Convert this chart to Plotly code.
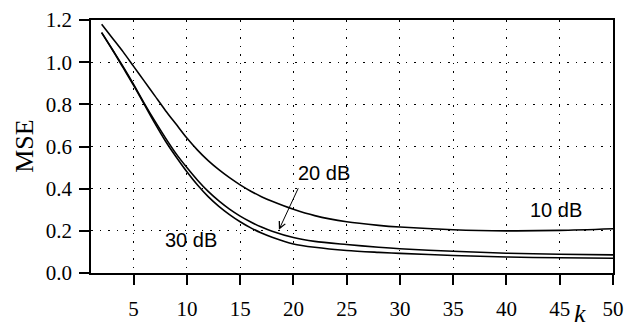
import plotly.graph_objects as go

k_values = [2, 3, 4, 5, 6, 7, 8, 9, 10, 11, 12, 13, 14, 15, 16, 17, 18, 20, 22, 25, 28, 30, 35, 40, 45, 50]

mse_10db = [1.18, 1.115, 1.05, 0.98, 0.91, 0.84, 0.77, 0.705, 0.64, 0.583, 0.533, 0.49, 0.452, 0.418,
            0.388, 0.362, 0.34, 0.302, 0.272, 0.243, 0.226, 0.218, 0.205, 0.200, 0.202, 0.21]
mse_20db = [1.14, 1.06, 0.98, 0.895, 0.805, 0.72, 0.64, 0.565, 0.50, 0.44, 0.387, 0.342, 0.303, 0.27,
            0.242, 0.218, 0.198, 0.168, 0.15, 0.135, 0.122, 0.115, 0.103, 0.094, 0.089, 0.086]
mse_30db = [1.14, 1.06, 0.975, 0.89, 0.80, 0.71, 0.625, 0.55, 0.48, 0.417, 0.362, 0.316, 0.277, 0.243,
            0.214, 0.19, 0.17, 0.138, 0.122, 0.107, 0.098, 0.093, 0.083, 0.076, 0.072, 0.07]

x_ticks = [5, 10, 15, 20, 25, 30, 35, 40, 45, 50]
y_ticks = [0.0, 0.2, 0.4, 0.6, 0.8, 1.0, 1.2]

serif = "Liberation Serif"
sans = "Liberation Sans"

fig = go.Figure()
for name, ys in [("10 dB", mse_10db), ("20 dB", mse_20db), ("30 dB", mse_30db)]:
    fig.add_trace(go.Scatter(x=k_values, y=ys, mode="lines", name=name,
                             line=dict(color="black", width=1.6, shape="spline", smoothing=0.8),
                             showlegend=False))

fig.update_layout(
    width=636, height=331,
    margin=dict(l=83, r=31, t=12, b=66),
    paper_bgcolor="white", plot_bgcolor="white",
    font=dict(family=serif, size=21, color="black"),
)
fig.update_xaxes(
    range=[1, 50], tickvals=x_ticks, ticktext=[str(v) for v in x_ticks],
    ticks="outside", ticklen=10, tickwidth=1.5, tickcolor="black",
    showline=True, linecolor="black", linewidth=1.5, mirror=True,
    showgrid=True, gridcolor="black", gridwidth=1, griddash="1.5px,7px",
    zeroline=False, ticklabelstandoff=6, automargin=False, ticklabeloverflow="allow",
    tickfont=dict(family=serif, size=21),
)
fig.update_yaxes(
    range=[0, 1.2], tickvals=y_ticks, ticktext=[f"{v:.1f}" for v in y_ticks],
    ticks="outside", ticklen=10, tickwidth=1.5, tickcolor="black",
    showline=True, linecolor="black", linewidth=1.5, mirror=True,
    showgrid=True, gridcolor="black", gridwidth=1, griddash="1.5px,7px",
    zeroline=False, ticklabelstandoff=3, automargin=False, ticklabeloverflow="allow",
    tickfont=dict(family=serif, size=21),
)

fig.add_annotation(x=-0.1264, xref="paper", y=0.499, yref="paper", text="MSE", textangle=-90,
                   showarrow=False, xanchor="center", yanchor="middle",
                   font=dict(family=serif, size=26, color="black"))
fig.add_annotation(x=22.9, y=0.476, text="20 dB", showarrow=False,
                   font=dict(family=sans, size=20, color="black"))
fig.add_annotation(x=44.65, y=0.30, text="10 dB", showarrow=False,
                   font=dict(family=sans, size=20, color="black"))
fig.add_annotation(x=10.35, y=0.156, text="30 dB", showarrow=False,
                   font=dict(family=sans, size=20, color="black"))
fig.add_annotation(x=18.64, y=0.205, text="", showarrow=True, ax=20, ay=-43,
                   arrowhead=5, arrowsize=1.3, arrowwidth=1, arrowcolor="black")
fig.add_annotation(x=46.9, xref="x", y=-0.16, yref="paper", text="<i>k</i>", showarrow=False,
                   xanchor="center", yanchor="middle",
                   font=dict(family=serif, size=26, color="black"))

fig.write_html("out.html")
